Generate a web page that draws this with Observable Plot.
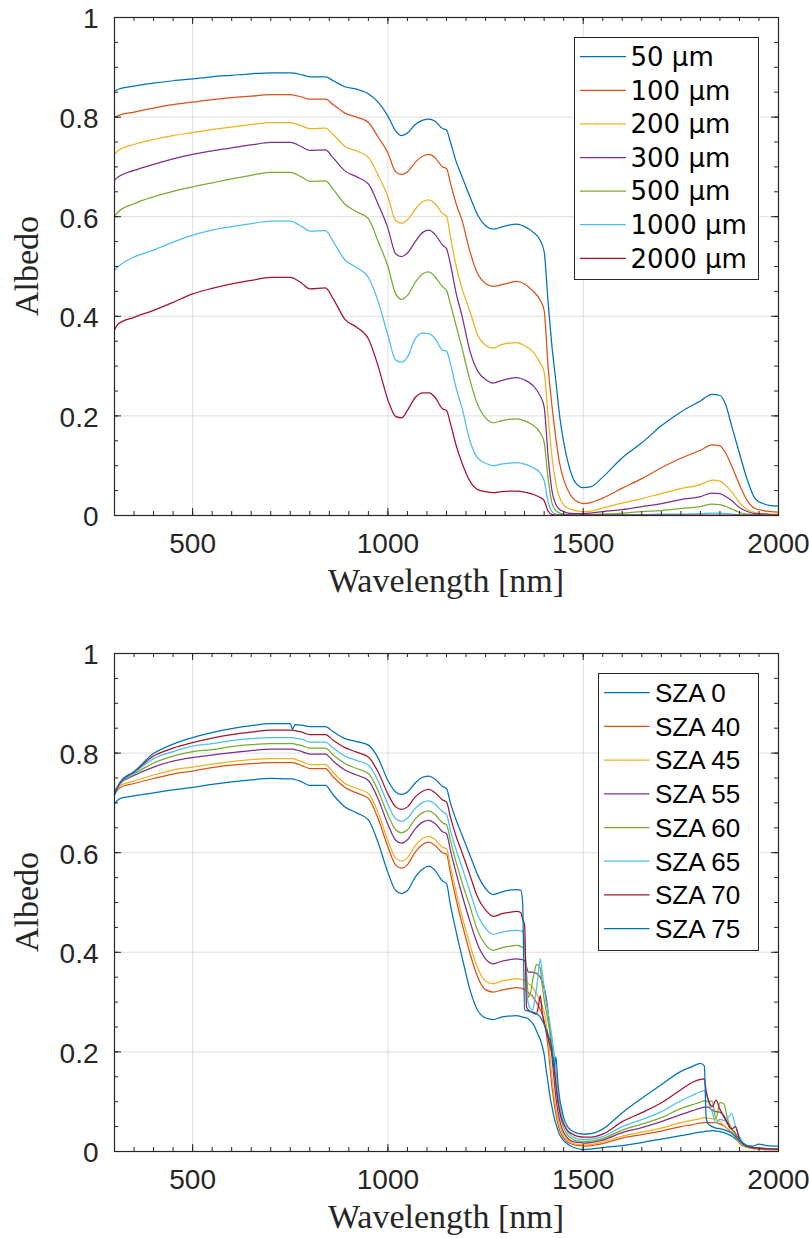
<!DOCTYPE html>
<html>
<head>
<meta charset="utf-8">
<script src="https://cdn.jsdelivr.net/npm/d3@7"></script>
<script src="https://cdn.jsdelivr.net/npm/@observablehq/plot@0.6"></script>
<style>
  html, body { margin: 0; padding: 0; background: #fff; }
  #charts { width: 809px; }
  #charts svg { display: block; }
</style>
</head>
<body>
<div id="charts"></div>
<script>
// ---------------- shared axis data ----------------
const xMajor = [500, 1000, 1500, 2000];
const xGrid = [500, 1000, 1500];
const yMajor = [0, 0.2, 0.4, 0.6, 0.8, 1];
const yGrid = [0.2, 0.4, 0.6, 0.8];
const matlabColors = ["#0072BD", "#D95319", "#EDB120", "#7E2F8E", "#77AC30", "#4DBEEE", "#A2142F", "#0072BD"];

// ---------------- top chart: grain size ----------------
const grainNames = ["50 µm", "100 µm", "200 µm", "300 µm", "500 µm", "1000 µm", "2000 µm"];
const wlTop = [300, 310, 350, 400, 450, 500, 550, 600, 650, 700,
  750, 780, 800, 840, 860, 890, 920, 950, 975, 1000,
  1020, 1035, 1050, 1070, 1090, 1105, 1120, 1140, 1150, 1160,
  1175, 1190, 1210, 1230, 1250, 1270, 1290, 1310, 1330, 1350,
  1370, 1390, 1400, 1410, 1420, 1430, 1440, 1450, 1460, 1480,
  1500, 1520, 1550, 1600, 1650, 1700, 1750, 1800, 1830, 1850,
  1865, 1880, 1900, 1920, 1940, 1960, 1980, 2000];
const g50 = [0.852, 0.856, 0.862, 0.868, 0.873, 0.877, 0.881, 0.884, 0.887, 0.889,
  0.889, 0.885, 0.881, 0.881, 0.873, 0.861, 0.856, 0.847, 0.830, 0.802,
  0.772, 0.763, 0.768, 0.785, 0.794, 0.796, 0.792, 0.777, 0.774, 0.750,
  0.710, 0.680, 0.640, 0.603, 0.582, 0.575, 0.579, 0.583, 0.585, 0.580,
  0.570, 0.552, 0.530, 0.430, 0.340, 0.270, 0.198, 0.148, 0.110, 0.066,
  0.056, 0.058, 0.077, 0.116, 0.146, 0.180, 0.208, 0.230, 0.243, 0.241,
  0.222, 0.180, 0.125, 0.072, 0.034, 0.024, 0.020, 0.019];
const g100 = [0.799, 0.803, 0.810, 0.818, 0.825, 0.830, 0.835, 0.839, 0.842, 0.845,
  0.845, 0.840, 0.836, 0.836, 0.825, 0.808, 0.800, 0.789, 0.760, 0.728,
  0.690, 0.685, 0.690, 0.709, 0.722, 0.725, 0.719, 0.700, 0.697, 0.668,
  0.625, 0.592, 0.530, 0.485, 0.466, 0.460, 0.463, 0.467, 0.470, 0.465,
  0.452, 0.432, 0.412, 0.300, 0.220, 0.155, 0.103, 0.072, 0.052, 0.030,
  0.024, 0.026, 0.035, 0.055, 0.074, 0.096, 0.115, 0.131, 0.142, 0.140,
  0.125, 0.100, 0.062, 0.030, 0.014, 0.010, 0.008, 0.007];
const g200 = [0.725, 0.733, 0.745, 0.755, 0.763, 0.769, 0.775, 0.780, 0.785, 0.789,
  0.789, 0.782, 0.777, 0.778, 0.765, 0.741, 0.732, 0.719, 0.683, 0.640,
  0.592, 0.587, 0.594, 0.615, 0.631, 0.634, 0.627, 0.606, 0.601, 0.560,
  0.500, 0.455, 0.410, 0.362, 0.342, 0.336, 0.343, 0.346, 0.347, 0.341,
  0.330, 0.306, 0.288, 0.200, 0.118, 0.065, 0.035, 0.022, 0.015, 0.010,
  0.008, 0.009, 0.015, 0.025, 0.034, 0.044, 0.054, 0.062, 0.071, 0.069,
  0.060, 0.048, 0.026, 0.012, 0.006, 0.004, 0.003, 0.003];
const g300 = [0.673, 0.680, 0.693, 0.705, 0.716, 0.725, 0.732, 0.738, 0.744, 0.749,
  0.749, 0.740, 0.733, 0.734, 0.718, 0.692, 0.680, 0.666, 0.625, 0.577,
  0.525, 0.520, 0.527, 0.550, 0.569, 0.573, 0.565, 0.543, 0.536, 0.505,
  0.445, 0.400, 0.330, 0.290, 0.273, 0.266, 0.271, 0.275, 0.277, 0.272,
  0.262, 0.240, 0.218, 0.120, 0.050, 0.022, 0.012, 0.008, 0.005, 0.004,
  0.004, 0.005, 0.008, 0.012, 0.018, 0.024, 0.032, 0.038, 0.045, 0.044,
  0.038, 0.030, 0.016, 0.008, 0.004, 0.003, 0.002, 0.002];
const g500 = [0.601, 0.610, 0.626, 0.640, 0.651, 0.660, 0.668, 0.676, 0.683, 0.689,
  0.689, 0.679, 0.671, 0.672, 0.655, 0.625, 0.610, 0.596, 0.550, 0.500,
  0.445, 0.434, 0.442, 0.468, 0.486, 0.489, 0.480, 0.459, 0.452, 0.425,
  0.380, 0.335, 0.272, 0.222, 0.196, 0.186, 0.190, 0.193, 0.194, 0.190,
  0.182, 0.166, 0.147, 0.075, 0.025, 0.010, 0.005, 0.003, 0.002, 0.002,
  0.002, 0.002, 0.003, 0.005, 0.008, 0.010, 0.014, 0.018, 0.023, 0.022,
  0.018, 0.013, 0.006, 0.003, 0.002, 0.001, 0.001, 0.001];
const g1000 = [0.492, 0.500, 0.519, 0.533, 0.549, 0.563, 0.573, 0.580, 0.586, 0.591,
  0.591, 0.580, 0.571, 0.572, 0.550, 0.513, 0.498, 0.478, 0.430, 0.362,
  0.312, 0.308, 0.318, 0.355, 0.366, 0.365, 0.356, 0.332, 0.330, 0.305,
  0.255, 0.215, 0.150, 0.115, 0.105, 0.100, 0.103, 0.105, 0.106, 0.103,
  0.097, 0.085, 0.070, 0.028, 0.008, 0.003, 0.002, 0.001, 0.001, 0.001,
  0.001, 0.001, 0.001, 0.002, 0.002, 0.003, 0.003, 0.004, 0.005, 0.005,
  0.004, 0.003, 0.001, 0.001, 0.001, 0.001, 0.001, 0.001];
const g2000 = [0.373, 0.385, 0.398, 0.412, 0.428, 0.445, 0.456, 0.465, 0.472, 0.478,
  0.478, 0.466, 0.455, 0.457, 0.435, 0.394, 0.378, 0.355, 0.300, 0.232,
  0.199, 0.196, 0.211, 0.237, 0.246, 0.246, 0.238, 0.214, 0.211, 0.185,
  0.140, 0.105, 0.069, 0.052, 0.048, 0.046, 0.048, 0.049, 0.049, 0.047,
  0.043, 0.036, 0.030, 0.009, 0.002, 0.001, 0.001, 0.001, 0.001, 0.001,
  0.001, 0.001, 0.001, 0.001, 0.001, 0.001, 0.001, 0.001, 0.001, 0.001,
  0.001, 0.001, 0.001, 0.001, 0.001, 0.001, 0.001, 0.001];
const grainSeries = [g50, g100, g200, g300, g500, g1000, g2000];

// ---------------- bottom chart: solar zenith angle ----------------
const szaNames = ["SZA 0", "SZA 40", "SZA 45", "SZA 55", "SZA 60", "SZA 65", "SZA 70", "SZA 75"];
const wlBot = [300, 315, 350, 400, 450, 500, 550, 600, 650, 700,
  750, 756, 762, 780, 800, 840, 860, 890, 920, 950,
  975, 1000, 1020, 1035, 1050, 1070, 1090, 1105, 1120, 1140,
  1150, 1160, 1175, 1190, 1210, 1230, 1250, 1270, 1290, 1310,
  1330, 1340, 1345, 1350, 1355, 1360, 1365, 1370, 1375, 1380,
  1385, 1390, 1395, 1400, 1405, 1410, 1415, 1420, 1425, 1430,
  1435, 1440, 1445, 1450, 1460, 1470, 1480, 1490, 1500, 1520,
  1550, 1600, 1650, 1700, 1750, 1780, 1800, 1810, 1815, 1820,
  1830, 1840, 1850, 1860, 1870, 1880, 1890, 1900, 1910, 1920,
  1935, 1950, 1970, 2000];
const sza0 = [0.699, 0.709, 0.714, 0.720, 0.726, 0.731, 0.737, 0.742, 0.746, 0.749,
  0.748, 0.748, 0.747, 0.742, 0.735, 0.735, 0.716, 0.692, 0.680, 0.666,
  0.620, 0.560, 0.524, 0.518, 0.524, 0.551, 0.568, 0.573, 0.565, 0.543,
  0.538, 0.495, 0.440, 0.390, 0.325, 0.283, 0.268, 0.265, 0.270, 0.272,
  0.273, 0.271, 0.270, 0.269, 0.268, 0.266, 0.262, 0.258, 0.252, 0.243,
  0.234, 0.225, 0.212, 0.195, 0.165, 0.138, 0.110, 0.090, 0.070, 0.056,
  0.043, 0.033, 0.027, 0.022, 0.015, 0.010, 0.007, 0.005, 0.004, 0.005,
  0.008, 0.012, 0.018, 0.025, 0.032, 0.036, 0.039, 0.040, 0.041, 0.041,
  0.042, 0.041, 0.040, 0.038, 0.035, 0.031, 0.025, 0.018, 0.013, 0.010,
  0.008, 0.006, 0.005, 0.005];
const sza40 = [0.718, 0.731, 0.739, 0.749, 0.758, 0.764, 0.771, 0.776, 0.779, 0.781,
  0.781, 0.781, 0.780, 0.775, 0.769, 0.769, 0.752, 0.731, 0.720, 0.709,
  0.668, 0.612, 0.575, 0.569, 0.576, 0.601, 0.617, 0.621, 0.615, 0.600,
  0.597, 0.560, 0.505, 0.457, 0.398, 0.350, 0.325, 0.320, 0.324, 0.327,
  0.329, 0.328, 0.327, 0.325, 0.322, 0.319, 0.316, 0.312, 0.306, 0.300,
  0.293, 0.285, 0.275, 0.262, 0.240, 0.210, 0.170, 0.130, 0.100, 0.075,
  0.056, 0.042, 0.033, 0.027, 0.019, 0.015, 0.013, 0.012, 0.011, 0.012,
  0.016, 0.027, 0.034, 0.041, 0.050, 0.054, 0.057, 0.058, 0.058, 0.058,
  0.058, 0.058, 0.055, 0.052, 0.045, 0.038, 0.030, 0.017, 0.011, 0.008,
  0.006, 0.005, 0.004, 0.004];
const sza45 = [0.722, 0.735, 0.744, 0.756, 0.766, 0.772, 0.778, 0.783, 0.787, 0.789,
  0.789, 0.789, 0.788, 0.783, 0.777, 0.777, 0.761, 0.739, 0.729, 0.719,
  0.680, 0.624, 0.589, 0.583, 0.590, 0.614, 0.629, 0.633, 0.627, 0.611,
  0.608, 0.572, 0.520, 0.472, 0.415, 0.368, 0.342, 0.337, 0.342, 0.345,
  0.347, 0.346, 0.345, 0.343, 0.340, 0.337, 0.334, 0.330, 0.324, 0.318,
  0.310, 0.302, 0.292, 0.280, 0.260, 0.230, 0.190, 0.150, 0.115, 0.088,
  0.066, 0.050, 0.040, 0.032, 0.023, 0.018, 0.015, 0.014, 0.013, 0.014,
  0.019, 0.031, 0.039, 0.047, 0.058, 0.063, 0.066, 0.068, 0.067, 0.067,
  0.066, 0.064, 0.060, 0.052, 0.045, 0.036, 0.029, 0.018, 0.012, 0.008,
  0.006, 0.005, 0.004, 0.004];
const sza55 = [0.724, 0.739, 0.755, 0.772, 0.784, 0.791, 0.796, 0.801, 0.805, 0.808,
  0.808, 0.808, 0.807, 0.803, 0.798, 0.798, 0.784, 0.766, 0.756, 0.745,
  0.708, 0.657, 0.625, 0.619, 0.626, 0.648, 0.662, 0.665, 0.659, 0.642,
  0.638, 0.605, 0.558, 0.515, 0.462, 0.415, 0.387, 0.377, 0.382, 0.385,
  0.387, 0.386, 0.385, 0.383, 0.370, 0.360, 0.360, 0.360, 0.359, 0.358,
  0.355, 0.350, 0.340, 0.328, 0.310, 0.280, 0.240, 0.190, 0.148, 0.110,
  0.082, 0.062, 0.048, 0.038, 0.027, 0.021, 0.019, 0.018, 0.017, 0.018,
  0.023, 0.038, 0.048, 0.060, 0.074, 0.082, 0.087, 0.089, 0.089, 0.089,
  0.083, 0.080, 0.079, 0.072, 0.058, 0.046, 0.036, 0.022, 0.014, 0.010,
  0.007, 0.006, 0.005, 0.005];
const sza60 = [0.722, 0.740, 0.758, 0.780, 0.794, 0.803, 0.807, 0.813, 0.817, 0.819,
  0.819, 0.819, 0.818, 0.815, 0.810, 0.810, 0.796, 0.779, 0.769, 0.759,
  0.724, 0.676, 0.646, 0.640, 0.646, 0.668, 0.681, 0.684, 0.677, 0.660,
  0.656, 0.625, 0.580, 0.540, 0.492, 0.443, 0.415, 0.404, 0.409, 0.412,
  0.414, 0.412, 0.410, 0.408, 0.360, 0.310, 0.318, 0.340, 0.360, 0.376,
  0.374, 0.368, 0.335, 0.305, 0.283, 0.262, 0.240, 0.215, 0.180, 0.140,
  0.105, 0.078, 0.060, 0.048, 0.033, 0.026, 0.022, 0.021, 0.020, 0.021,
  0.026, 0.043, 0.055, 0.068, 0.086, 0.094, 0.099, 0.102, 0.101, 0.100,
  0.101, 0.066, 0.098, 0.096, 0.064, 0.046, 0.034, 0.022, 0.014, 0.010,
  0.008, 0.007, 0.006, 0.006];
const sza65 = [0.720, 0.741, 0.760, 0.789, 0.803, 0.814, 0.819, 0.825, 0.829, 0.831,
  0.831, 0.831, 0.830, 0.828, 0.822, 0.822, 0.810, 0.794, 0.785, 0.776,
  0.744, 0.697, 0.668, 0.663, 0.669, 0.689, 0.701, 0.704, 0.698, 0.682,
  0.677, 0.645, 0.605, 0.570, 0.522, 0.475, 0.448, 0.436, 0.440, 0.443,
  0.444, 0.443, 0.442, 0.420, 0.330, 0.295, 0.287, 0.284, 0.300, 0.325,
  0.355, 0.387, 0.360, 0.330, 0.300, 0.280, 0.255, 0.230, 0.200, 0.165,
  0.125, 0.095, 0.072, 0.058, 0.040, 0.031, 0.027, 0.025, 0.024, 0.025,
  0.030, 0.050, 0.064, 0.080, 0.102, 0.113, 0.120, 0.122, 0.118, 0.100,
  0.080, 0.058, 0.065, 0.062, 0.066, 0.076, 0.050, 0.030, 0.018, 0.011,
  0.008, 0.007, 0.006, 0.006];
const sza70 = [0.718, 0.742, 0.762, 0.794, 0.810, 0.821, 0.830, 0.837, 0.842, 0.846,
  0.846, 0.846, 0.845, 0.842, 0.837, 0.837, 0.826, 0.811, 0.802, 0.792,
  0.762, 0.718, 0.692, 0.687, 0.692, 0.712, 0.724, 0.727, 0.721, 0.706,
  0.702, 0.672, 0.632, 0.600, 0.555, 0.510, 0.485, 0.472, 0.477, 0.480,
  0.482, 0.480, 0.466, 0.455, 0.290, 0.284, 0.281, 0.279, 0.277, 0.276,
  0.290, 0.313, 0.280, 0.258, 0.243, 0.228, 0.212, 0.195, 0.172, 0.135,
  0.102, 0.080, 0.065, 0.055, 0.042, 0.036, 0.032, 0.030, 0.029, 0.029,
  0.035, 0.060, 0.078, 0.098, 0.124, 0.139, 0.145, 0.146, 0.120, 0.105,
  0.090, 0.103, 0.085, 0.070, 0.055, 0.045, 0.050, 0.025, 0.015, 0.010,
  0.008, 0.007, 0.006, 0.005];
const sza75 = [0.715, 0.742, 0.763, 0.799, 0.818, 0.831, 0.841, 0.849, 0.855, 0.859,
  0.859, 0.848, 0.857, 0.856, 0.853, 0.853, 0.843, 0.829, 0.823, 0.816,
  0.790, 0.745, 0.722, 0.717, 0.722, 0.740, 0.752, 0.754, 0.748, 0.733,
  0.729, 0.700, 0.665, 0.635, 0.595, 0.555, 0.528, 0.516, 0.521, 0.525,
  0.526, 0.525, 0.500, 0.285, 0.283, 0.282, 0.281, 0.280, 0.279, 0.277,
  0.274, 0.270, 0.263, 0.255, 0.246, 0.235, 0.222, 0.205, 0.170, 0.190,
  0.140, 0.105, 0.085, 0.068, 0.050, 0.042, 0.038, 0.036, 0.035, 0.036,
  0.045, 0.078, 0.107, 0.134, 0.161, 0.171, 0.177, 0.172, 0.066, 0.056,
  0.050, 0.047, 0.046, 0.044, 0.041, 0.037, 0.030, 0.022, 0.016, 0.012,
  0.011, 0.015, 0.012, 0.011];
const szaSeries = [sza0, sza40, sza45, sza55, sza60, sza65, sza70, sza75];

// ---------------- drawing ----------------
const W = 809, ML = 114, MR = 31;
const AX = "#262626";
const tickFont = "'Liberation Sans', Arial, Helvetica, sans-serif";
const serifFont = "'Liberation Serif', 'Times New Roman', serif";

function makeChart({height, marginTop, marginBottom, wl, series, names, legend}) {
  const rows = [];
  series.forEach((vals, i) => vals.forEach((v, j) => rows.push({wl: wl[j], a: v, s: names[i]})));
  const plotH = height - marginTop - marginBottom;
  const plotW = W - ML - MR;
  const xMinor = d3.range(300, 2001, 50);
  const yMinor = d3.range(0, 21).map(i => i / 20);
  const tick = {stroke: AX, strokeWidth: 1};
  const svg = Plot.plot({
    width: W, height, marginLeft: ML, marginRight: MR, marginTop, marginBottom,
    style: {fontFamily: tickFont, fontSize: "28px", color: AX, background: "#fff"},
    x: {type: "linear", domain: [300, 2000]},
    y: {type: "linear", domain: [0, 1]},
    color: {domain: names, range: matlabColors.slice(0, names.length)},
    marks: [
      Plot.gridX(xGrid, {stroke: "#000", strokeOpacity: 0.13, strokeWidth: 1}),
      Plot.gridY(yGrid, {stroke: "#000", strokeOpacity: 0.13, strokeWidth: 1}),
      Plot.line(rows, {x: "wl", y: "a", z: "s", stroke: "s", strokeWidth: 1.25, curve: "monotone-x"}),
      Plot.tickX(xMinor, {x: d => d, insetTop: plotH - 4, ...tick}),
      Plot.tickX(xMinor, {x: d => d, insetBottom: plotH - 4, ...tick}),
      Plot.tickX(xMajor, {x: d => d, insetTop: plotH - 7, ...tick}),
      Plot.tickX(xMajor, {x: d => d, insetBottom: plotH - 7, ...tick}),
      Plot.tickY(yMinor, {y: d => d, insetRight: plotW - 4, ...tick}),
      Plot.tickY(yMinor, {y: d => d, insetLeft: plotW - 4, ...tick}),
      Plot.tickY(yMajor, {y: d => d, insetRight: plotW - 7, ...tick}),
      Plot.tickY(yMajor, {y: d => d, insetLeft: plotW - 7, ...tick}),
      Plot.frame({stroke: AX, strokeWidth: 1.2}),
      Plot.axisX(xMajor, {tickSize: 0, tickPadding: 18, fontSize: 28, fill: AX, label: null, tickFormat: d => String(d)}),
      Plot.axisY(yMajor, {tickSize: 0, tickPadding: 16, fontSize: 28, fill: AX, label: null, dy: 2, tickFormat: d => String(d)})
    ]
  });
  const s = d3.select(svg);
  // axis titles
  s.append("text")
    .attr("x", ML + plotW / 2).attr("y", marginTop + plotH + 77)
    .attr("text-anchor", "middle")
    .attr("font-family", serifFont).attr("font-size", 34).attr("fill", AX)
    .text("Wavelength [nm]");
  s.append("text")
    .attr("transform", `translate(38,${marginTop + plotH / 2}) rotate(-90)`)
    .attr("text-anchor", "middle")
    .attr("font-family", serifFont).attr("font-size", 34).attr("fill", AX)
    .text("Albedo");
  // legend
  const g = s.append("g").attr("text-anchor", "start");
  g.append("rect")
    .attr("x", legend.x).attr("y", legend.y)
    .attr("width", legend.w).attr("height", legend.h)
    .attr("fill", "#fff").attr("stroke", AX).attr("stroke-width", 1);
  names.forEach((n, i) => {
    const cy = legend.row0 + i * legend.step;
    g.append("line")
      .attr("x1", legend.lx1).attr("x2", legend.lx2)
      .attr("y1", cy).attr("y2", cy)
      .attr("stroke", matlabColors[i]).attr("stroke-width", 1.25);
    g.append("text")
      .attr("x", legend.tx).attr("y", cy)
      .attr("dy", "0.36em")
      .attr("text-anchor", "start")
      .attr("font-family", legend.font).attr("font-size", legend.size).attr("fill", "#000")
      .text(n);
  });
  return svg;
}

const container = document.getElementById("charts");
container.append(makeChart({
  height: 636, marginTop: 17, marginBottom: 121,
  wl: wlTop, series: grainSeries, names: grainNames,
  legend: {x: 574.5, y: 37.5, w: 184, h: 242, row0: 56.7, step: 33.6, lx1: 580, lx2: 626, tx: 630.5,
           font: "'DejaVu Sans', Verdana, sans-serif", size: 26}
}));
container.append(makeChart({
  height: 602, marginTop: 17, marginBottom: 87,
  wl: wlBot, series: szaSeries, names: szaNames,
  legend: {x: 598.5, y: 37.5, w: 160, h: 277, row0: 56.7, step: 33.7, lx1: 604, lx2: 649.5, tx: 655,
           font: tickFont, size: 26}
}));
</script>
</body>
</html>
